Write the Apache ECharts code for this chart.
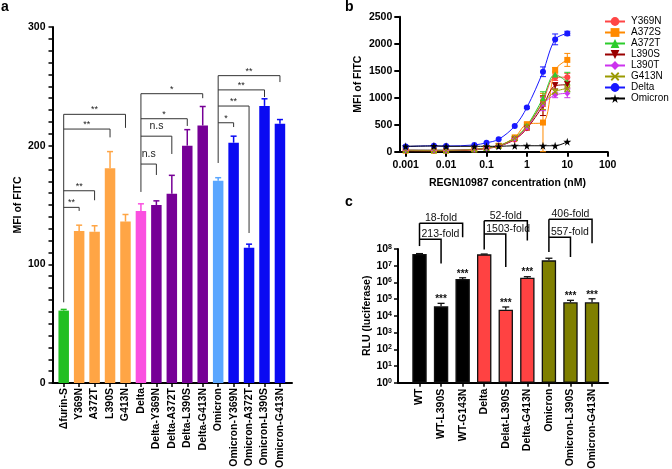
<!DOCTYPE html>
<html>
<head>
<meta charset="utf-8">
<script src="https://cdn.jsdelivr.net/npm/echarts@6/dist/echarts.min.js"></script>
<style>
html, body { margin: 0; padding: 0; background: #fff; }
#main { width: 672px; height: 469px; }
</style>
</head>
<body>
<div id="main"></div>
<script>
// ---- panel a : MFI of FITC, bars ----
let catsA = ['Δfurin-S', 'Y369N', 'A372T', 'L390S', 'G413N', 'Delta', 'Delta-Y369N', 'Delta-A372T',
    'Delta-L390S', 'Delta-G413N', 'Omicron', 'Omicron-Y369N', 'Omicron-A372T', 'Omicron-L390S', 'Omicron-G413N'];
let mfiA = [61, 128, 127.5, 181, 136, 145, 150, 159.5, 200, 217, 170.5, 202.5, 114, 233.5, 218.5];
let sdA = [1, 5, 5, 14, 6, 6, 3.5, 15.5, 13.5, 16, 2.5, 5.5, 3, 6, 3.5];
let colorsA = ['#22bf22', '#ffa545', '#ffa545', '#ffa545', '#ffa545', '#fa50e0', '#760096', '#760096',
    '#760096', '#760096', '#5aa6ff', '#0a0af2', '#0a0af2', '#0a0af2', '#0a0af2'];
// significance brackets (category index, MFI values)
let sigFromA = [0, 0, 0, 0, 5, 5, 5, 5, 10, 10, 10, 10];
let sigToA = [1, 2, 3, 4, 6, 7, 8, 9, 11, 12, 13, 14];
let sigTopA = [148, 162, 214, 226.4, 184.5, 208, 222.7, 243.8, 219.3, 233.4, 247, 259];
let sigEndA = [145, 154, 207, 215, 175.3, 193, 216.6, 240, 215.7, 126.4, 241, 253.6];
let sigTextA = ['**', '**', '**', '**', 'n.s', 'n.s', '*', '*', '*', '**', '**', '**'];
let stemAtA = [0, 5, 10];
let stemBottomA = [68, 161, 185.4];

// ---- panel b : binding curves ----
let concB = [0.001, 0.005, 0.01, 0.05, 0.1, 0.2, 0.5, 1, 2.5, 5, 10];
let namesB = ['Y369N', 'A372S', 'A372T', 'L390S', 'L390T', 'G413N', 'Delta', 'Omicron'];
let y369nB = [25, 22, 22, 40, 65, 105, 225, 440, 940, 1380, 1380];
let a372sB = [20, 18, 20, 45, 70, 110, 265, 510, 540, 1510, 1700];
let a372tB = [30, 28, 28, 45, 70, 110, 255, 480, 990, 1430, 1290];
let l390sB = [20, 18, 18, 35, 60, 100, 230, 430, 850, 1220, 1240];
let l390tB = [30, 28, 28, 45, 65, 105, 240, 450, 880, 1050, 1080];
let g413nB = [28, 25, 25, 42, 68, 108, 250, 470, 900, 1110, 1170];
let deltaB = [95, 110, 105, 125, 165, 230, 475, 820, 1480, 2080, 2190];
let omicronB = [100, 105, 100, 100, 100, 100, 110, 110, 110, 110, 185];
let y369nSd = [0, 0, 0, 0, 0, 0, 20, 30, 100, 60, 70];
let a372sSd = [0, 0, 0, 0, 0, 0, 20, 30, 540, 50, 120];
let a372tSd = [0, 0, 0, 0, 0, 0, 20, 30, 120, 60, 180];
let l390sSd = [0, 0, 0, 0, 0, 0, 20, 30, 180, 60, 60];
let l390tSd = [0, 0, 0, 0, 0, 0, 20, 30, 120, 50, 80];
let g413nSd = [0, 0, 0, 0, 0, 0, 20, 30, 120, 50, 60];
let deltaSd = [0, 0, 0, 0, 0, 0, 0, 20, 90, 100, 40];
let omicronSd = [0, 0, 0, 0, 0, 0, 0, 0, 0, 0, 0];
let ticksB = [0.001, 0.01, 0.1, 1, 10, 100];

// ---- panel c : RLU (luciferase), log bars ----
let catsC = ['WT', 'WT-L390S', 'WT-G143N', 'Delta', 'Delat-L390S', 'Delta-G413N', 'Omicron', 'Omicron-L390S', 'Omicron-G413N'];
let rluC = [5.0e7, 3.7e4, 1.6e6, 4.8e7, 2.3e4, 1.9e6, 2.1e7, 6.5e4, 6.5e4];
let rluTopC = [5.3e7, 5.6e4, 1.9e6, 5.0e7, 3.4e4, 2.2e6, 2.8e7, 8.5e4, 1.05e5];
let starsC = ['', '***', '***', '', '***', '***', '', '***', '***'];
let colorsC = ['#000000', '#000000', '#000000', '#ff4242', '#ff4242', '#ff4242', '#7f7f00', '#7f7f00', '#7f7f00'];
let foldFromC = [0, 0, 3, 3, 6, 6];
let foldToC = [2, 1, 5, 4, 8, 7];
let foldTopC = [3.5e9, 3.8e8, 4.9e9, 7.9e8, 6.0e9, 5.0e8];
let foldEndC = [5.0e8, 1.35e7, 3.2e8, 8.3e6, 2.2e8, 3.3e7];
let foldTextC = ['18-fold', '213-fold', '52-fold', '1503-fold', '406-fold', '557-fold'];
let foldInnerC = [false, true, false, true, false, true];
let stemAtC = [0, 3, 6];
let stemBottomC = [1.5e8, 9.3e7, 6.6e7];

const FONT = 'Liberation Sans, Arial, sans-serif';
let colorsB = ['#ff4545', '#ff8a00', '#2ccc2c', '#9a0000', '#cc33ee', '#9a9a00', '#1818ff', '#000000'];
let symbolsB = ['circle', 'rect', 'triangle', 'path://M0,0L100,0L50,87Z', 'diamond',
    'path://M0,15L15,0L50,35L85,0L100,15L65,50L100,85L85,100L50,65L15,100L0,85L35,50Z', 'circle',
    'path://M50,0L61,35L98,35L68,57L79,91L50,70L21,91L32,57L2,35L39,35Z'];
let valsB = [y369nB, a372sB, a372tB, l390sB, l390tB, g413nB, deltaB, omicronB];
let sdsB = [y369nSd, a372sSd, a372tSd, l390sSd, l390tSd, g413nSd, deltaSd, omicronSd];

let myChart = echarts.init(document.getElementById('main'));

let axisLine = {show: true, onZero: false, lineStyle: {color: '#000', width: 2}};
let labelStyle = {color: '#000', fontFamily: FONT, fontWeight: 'bold', fontSize: 10.5};
let nameStyle = {color: '#000', fontFamily: FONT, fontWeight: 'bold', fontSize: 10.5};

function errUp(colorOf, half) {
    return function (params, api) {
        let x = api.value(0);
        let p0 = api.coord([x, api.value(1)]);
        let p1 = api.coord([x, api.value(2)]);
        let c = colorOf(params.dataIndex);
        return {type: 'group', children: [
            {type: 'line', shape: {x1: p0[0], y1: p0[1], x2: p1[0], y2: p1[1]}, style: {stroke: c, lineWidth: 1.5}},
            {type: 'line', shape: {x1: p1[0] - half, y1: p1[1], x2: p1[0] + half, y2: p1[1]}, style: {stroke: c, lineWidth: 1.5}}
        ]};
    };
}

function stems(at, bottom, from, tops, color, width) {
    return function (params, api) {
        let i = params.dataIndex;
        let top = 0;
        for (let k = 0; k < from.length; k++) {
            if (from[k] === at[i]) top = Math.max(top, tops[k]);
        }
        let p0 = api.coord([at[i], top]);
        let p1 = api.coord([at[i], bottom[i]]);
        return {type: 'line', shape: {x1: p0[0], y1: p0[1], x2: p1[0], y2: p1[1]}, style: {stroke: color, lineWidth: width}};
    };
}

let seriesB = [];
let errB = [];
for (let s = 0; s < namesB.length; s++) {
    seriesB.push({
        name: namesB[s],
        type: 'line',
        xAxisIndex: 1, yAxisIndex: 1,
        smooth: 0.35,
        symbol: symbolsB[s],
        symbolSize: s === 7 ? 8 : 6,
        color: colorsB[s],
        lineStyle: {width: 1, color: colorsB[s]},
        itemStyle: {color: colorsB[s]},
        z: 3,
        data: concB.map((c, j) => [c, valsB[s][j]])
    });
    let ed = [];
    for (let j = 0; j < concB.length; j++) {
        if (sdsB[s][j] > 0) ed.push([concB[j], Math.max(valsB[s][j] - sdsB[s][j], 0), valsB[s][j] + sdsB[s][j]]);
    }
    errB.push({
        type: 'custom',
        xAxisIndex: 1, yAxisIndex: 1,
        z: 2,
        renderItem: function (params, api) {
            let x = api.value(0);
            let p0 = api.coord([x, api.value(1)]);
            let p1 = api.coord([x, api.value(2)]);
            let c = colorsB[s];
            return {type: 'group', children: [
                {type: 'line', shape: {x1: p0[0], y1: p0[1], x2: p1[0], y2: p1[1]}, style: {stroke: c, lineWidth: 1}},
                {type: 'line', shape: {x1: p0[0] - 3, y1: p0[1], x2: p0[0] + 3, y2: p0[1]}, style: {stroke: c, lineWidth: 1}},
                {type: 'line', shape: {x1: p1[0] - 3, y1: p1[1], x2: p1[0] + 3, y2: p1[1]}, style: {stroke: c, lineWidth: 1}}
            ]};
        },
        data: ed
    });
}

let option = {
    backgroundColor: '#fff',
    animation: false,
    title: [
        {text: 'a', left: 1, top: 0, padding: 0, textStyle: {fontSize: 14, fontWeight: 'bold', fontFamily: FONT, color: '#000'}},
        {text: 'b', left: 345, top: 0, padding: 0, textStyle: {fontSize: 14, fontWeight: 'bold', fontFamily: FONT, color: '#000'}},
        {text: 'c', left: 345, top: 195, padding: 0, textStyle: {fontSize: 14, fontWeight: 'bold', fontFamily: FONT, color: '#000'}}
    ],
    legend: {
        orient: 'vertical',
        left: 604, top: 16,
        itemWidth: 20, itemHeight: 11, itemGap: 0,
        padding: 0,
        data: namesB,
        textStyle: {fontSize: 10, lineHeight: 11, fontFamily: FONT, color: '#000', padding: [0, 0, 0, 1]}
    },
    grid: [
        {left: 52.5, top: 27, width: 239.5, height: 356, outerBoundsMode: 'none', containLabel: false},
        {left: 399.3, top: 16.7, width: 208.4, height: 135, outerBoundsMode: 'none', containLabel: false},
        {left: 398, top: 249, width: 210, height: 133.7, outerBoundsMode: 'none', containLabel: false}
    ],
    xAxis: [
        {
            gridIndex: 0, type: 'value', min: -0.725, max: 14.78,
            axisLine: axisLine,
            axisTick: {show: true, length: 4, customValues: catsA.map((c, i) => i), lineStyle: {color: '#000', width: 1.5}},
            axisLabel: Object.assign({rotate: 90, margin: 5, customValues: catsA.map((c, i) => i),
                formatter: v => catsA[Math.round(v)]}, labelStyle),
            splitLine: {show: false}
        },
        {
            gridIndex: 1, type: 'log', logBase: 10, min: 0.000695, max: 100,
            name: 'REGN10987 concentration (nM)', nameLocation: 'middle', nameGap: 26,
            nameTextStyle: Object.assign({padding: [0, 0, 0, 8]}, nameStyle),
            axisLine: axisLine,
            axisTick: {show: true, length: 5, customValues: ticksB, lineStyle: {color: '#000', width: 2}},
            axisLabel: Object.assign({margin: 8, customValues: ticksB, formatter: v => String(v)}, labelStyle),
            splitLine: {show: false}, minorTick: {show: false}
        },
        {
            gridIndex: 2, type: 'value', min: -0.997, max: 8.74,
            axisLine: axisLine,
            axisTick: {show: true, length: 4, customValues: catsC.map((c, i) => i), lineStyle: {color: '#000', width: 1.5}},
            axisLabel: Object.assign({rotate: 90, margin: 6, customValues: catsC.map((c, i) => i),
                formatter: v => catsC[Math.round(v)]}, labelStyle),
            splitLine: {show: false}
        }
    ],
    yAxis: [
        {
            gridIndex: 0, type: 'value', min: 0, max: 300, interval: 10,
            name: 'MFI of FITC', nameLocation: 'middle', nameGap: 26, nameTextStyle: nameStyle,
            axisLine: axisLine,
            axisTick: {show: true, length: 4, lineStyle: {color: '#000', width: 1.5}},
            axisLabel: Object.assign({margin: 7, formatter: v => (v % 100 === 0 ? String(v) : '')}, labelStyle),
            splitLine: {show: false}
        },
        {
            gridIndex: 1, type: 'value', min: 0, max: 2500, interval: 500,
            name: 'MFI of FITC', nameLocation: 'middle', nameGap: 36, nameTextStyle: nameStyle,
            axisLine: axisLine,
            axisTick: {show: true, length: 5, lineStyle: {color: '#000', width: 2}},
            axisLabel: Object.assign({margin: 7, formatter: v => String(v)}, labelStyle),
            splitLine: {show: false}
        },
        {
            gridIndex: 2, type: 'log', logBase: 10, min: 1, max: 1e8, splitNumber: 8,
            name: 'RLU (luciferase)', nameLocation: 'middle', nameGap: 25, nameTextStyle: nameStyle,
            axisLine: axisLine,
            axisTick: {show: true, length: 4, lineStyle: {color: '#000', width: 1.5}},
            axisLabel: Object.assign({margin: 6,
                formatter: v => '10{e|' + Math.round(Math.log10(v)) + '}',
                rich: {e: {fontSize: 7, fontWeight: 'bold', fontFamily: FONT, color: '#000', verticalAlign: 'top', padding: [0, 0, 4, 0]}}
            }, labelStyle),
            splitLine: {show: false}, minorTick: {show: false}
        }
    ],
    series: [
        // panel a
        {
            type: 'bar', xAxisIndex: 0, yAxisIndex: 0, barWidth: 10.5,
            itemStyle: {color: p => colorsA[p.dataIndex]},
            data: mfiA.map((v, i) => [i, v])
        },
        {
            type: 'custom', xAxisIndex: 0, yAxisIndex: 0, z: 3,
            renderItem: errUp(i => colorsA[i], 3),
            data: mfiA.map((v, i) => [i, v, v + sdA[i]])
        },
        {
            type: 'custom', xAxisIndex: 0, yAxisIndex: 0, z: 4, clip: false,
            renderItem: function (params, api) {
                let i = params.dataIndex;
                let pL = api.coord([sigFromA[i], sigTopA[i]]);
                let pR = api.coord([sigToA[i], sigTopA[i]]);
                let pE = api.coord([sigToA[i], sigEndA[i]]);
                let ns = sigTextA[i] === 'n.s';
                return {type: 'group', children: [
                    {type: 'polyline', shape: {points: [pL, pR, pE]}, style: {stroke: '#333', lineWidth: 1, fill: null}},
                    {type: 'text', x: (pL[0] + pR[0]) / 2, y: pL[1] - (ns ? 10 : 4.5),
                        style: {text: sigTextA[i], fill: '#222', fontSize: ns ? 10.5 : 9, fontFamily: FONT,
                            align: 'center', verticalAlign: 'middle'}}
                ]};
            },
            data: sigFromA.map((f, i) => [f, sigTopA[i]])
        },
        {
            type: 'custom', xAxisIndex: 0, yAxisIndex: 0, z: 4, clip: false,
            renderItem: stems(stemAtA, stemBottomA, sigFromA, sigTopA, '#333', 1),
            data: stemAtA.map((s, i) => [s, stemBottomA[i]])
        },
        // panel b
        ...seriesB,
        ...errB,
        // panel c
        {
            type: 'bar', xAxisIndex: 2, yAxisIndex: 2, barWidth: 14.4,
            itemStyle: {color: p => colorsC[p.dataIndex], borderColor: '#111', borderWidth: 1.3},
            data: rluC.map((v, i) => [i, v])
        },
        {
            type: 'custom', xAxisIndex: 2, yAxisIndex: 2, z: 3,
            renderItem: function (params, api) {
                let i = params.dataIndex;
                let p0 = api.coord([i, rluC[i]]);
                let p1 = api.coord([i, rluTopC[i]]);
                let ch = [
                    {type: 'line', shape: {x1: p0[0], y1: p0[1], x2: p1[0], y2: p1[1]}, style: {stroke: '#111', lineWidth: 1.3}},
                    {type: 'line', shape: {x1: p1[0] - 3.5, y1: p1[1], x2: p1[0] + 3.5, y2: p1[1]}, style: {stroke: '#111', lineWidth: 1.3}}
                ];
                if (starsC[i]) {
                    ch.push({type: 'text', x: p1[0], y: p1[1] - 4,
                        style: {text: starsC[i], fill: '#111', fontSize: 10, fontWeight: 'bold', fontFamily: FONT,
                            align: 'center', verticalAlign: 'middle'}});
                }
                return {type: 'group', children: ch};
            },
            data: rluC.map((v, i) => [i, rluTopC[i]])
        },
        {
            type: 'custom', xAxisIndex: 2, yAxisIndex: 2, z: 4, clip: false,
            renderItem: function (params, api) {
                let i = params.dataIndex;
                let pL = api.coord([foldFromC[i], foldTopC[i]]);
                let pR = api.coord([foldToC[i], foldTopC[i]]);
                let pE = api.coord([foldToC[i], foldEndC[i]]);
                let inner = foldInnerC[i];
                return {type: 'group', children: [
                    {type: 'polyline', shape: {points: [pL, pR, pE]}, style: {stroke: '#000', lineWidth: 1.5, fill: null}},
                    {type: 'text', x: inner ? pL[0] + 2 : (pL[0] + pR[0]) / 2, y: pL[1] + 0.5,
                        style: {text: foldTextC[i], fill: '#111', fontSize: 10.5, fontFamily: FONT,
                            align: inner ? 'left' : 'center', verticalAlign: 'bottom'}}
                ]};
            },
            data: foldFromC.map((f, i) => [f, foldTopC[i]])
        },
        {
            type: 'custom', xAxisIndex: 2, yAxisIndex: 2, z: 4, clip: false,
            renderItem: stems(stemAtC, stemBottomC, foldFromC, foldTopC, '#000', 1.5),
            data: stemAtC.map((s, i) => [s, stemBottomC[i]])
        }
    ]
};
myChart.setOption(option);
</script>
</body>
</html>
